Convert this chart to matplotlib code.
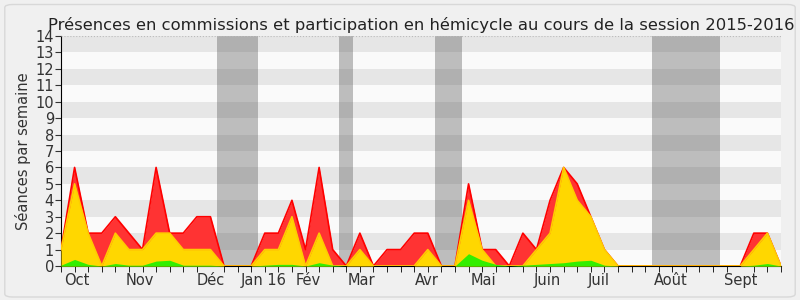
import matplotlib.pyplot as plt
from matplotlib.patches import FancyBboxPatch

# weekly values, index 0 = first week of October 2015
weeks = list(range(54))
total = [1, 6, 2, 2, 3, 2, 1, 6, 2, 2, 3, 3, 0, 0, 0, 2, 2, 4, 1, 6,
         1, 0, 2, 0, 1, 1, 2, 2, 0, 0, 5, 1, 1, 0, 2, 1, 4, 6, 5, 3,
         1, 0, 0, 0, 0, 0, 0, 0, 0, 0, 0, 2, 2, 0]
hemicycle = [1, 5, 2, 0, 2, 1, 1, 2, 2, 1, 1, 1, 0, 0, 0, 1, 1, 3, 0, 2,
             0, 0, 1, 0, 0, 0, 0, 1, 0, 0, 4, 1, 0, 0, 0, 1, 2, 6, 4, 3,
             1, 0, 0, 0, 0, 0, 0, 0, 0, 0, 0, 1, 2, 0]
commission = [0.05, 0.4, 0.1, 0, 0.15, 0.05, 0.05, 0.3, 0.35, 0.05, 0.05, 0.05, 0, 0, 0, 0.05, 0.1, 0.1, 0, 0.2,
              0.05, 0, 0, 0, 0, 0, 0, 0, 0, 0, 0.75, 0.35, 0.1, 0, 0.05, 0.1, 0.15, 0.2, 0.3, 0.35,
              0.05, 0, 0, 0, 0, 0, 0, 0, 0, 0, 0, 0.05, 0.15, 0]

vacances = [(11.5, 14.5), (20.5, 21.5), (27.5, 29.5), (43.5, 48.5)]

mois = ["Oct", "Nov", "Déc", "Jan 16", "Fév", "Mar", "Avr", "Mai", "Juin", "Juil", "Août", "Sept"]
mois_pos = [1.2, 5.8, 11, 14.9, 18.2, 22.1, 26.9, 31.1, 35.8, 39.6, 44.9, 50]

fig = plt.figure(figsize=(8, 3), dpi=100, facecolor="#f0f0f0")
fig.patches.append(FancyBboxPatch((0.006, 0.01), 0.988, 0.975, boxstyle="round,pad=0,rounding_size=0.01",
                                  transform=fig.transFigure, facecolor="#f0f0f0", edgecolor="#d8d8d8", lw=1, zorder=-1))
ax = fig.add_axes([0.07625, 0.1133, 0.9, 0.7667])
ax.set_facecolor("#fafafa")

for k in range(1, 14, 2):
    ax.axhspan(k, k + 1, color="#e6e6e6", lw=0, zorder=0)
for a, b in vacances:
    ax.axvspan(a, b, color="#4c4c4c", alpha=0.35, lw=0, zorder=1)

ax.fill_between(weeks, total, color="#ff3333", lw=0, zorder=2)
ax.plot(weeks, total, color="#ff0000", lw=1.2, zorder=3)
ax.fill_between(weeks, hemicycle, color="#ffd700", lw=0, zorder=4)
ax.plot(weeks, hemicycle, color="#ffcc00", lw=1.2, zorder=5)
ax.fill_between(weeks, commission, color="#33ee00", lw=0, zorder=6)

ax.set_xlim(0, 53)
ax.set_ylim(0, 14)
ax.set_yticks(range(15))
ax.tick_params(axis="y", labelsize=10.5, length=4, pad=1, colors="#333333")
ax.set_xticks(weeks, minor=True)
ax.set_xticks(mois_pos)
ax.set_xticklabels(mois)
ax.tick_params(axis="x", which="major", length=0, labelsize=10.5, pad=5, labelcolor="#333333")
ax.tick_params(axis="x", which="minor", length=4)
ax.axhline(14, color="#bbbbbb", lw=0.8, ls=":", zorder=7)
for s in ["top", "right"]:
    ax.spines[s].set_visible(False)
ax.set_ylabel("Séances par semaine", fontsize=10.5, color="#333333", labelpad=3)
ax.set_title("Présences en commissions et participation en hémicycle au cours de la session 2015-2016",
             fontsize=11.8, color="#222222", pad=4)

fig.savefig("out.png", dpi=100, facecolor=fig.get_facecolor())
